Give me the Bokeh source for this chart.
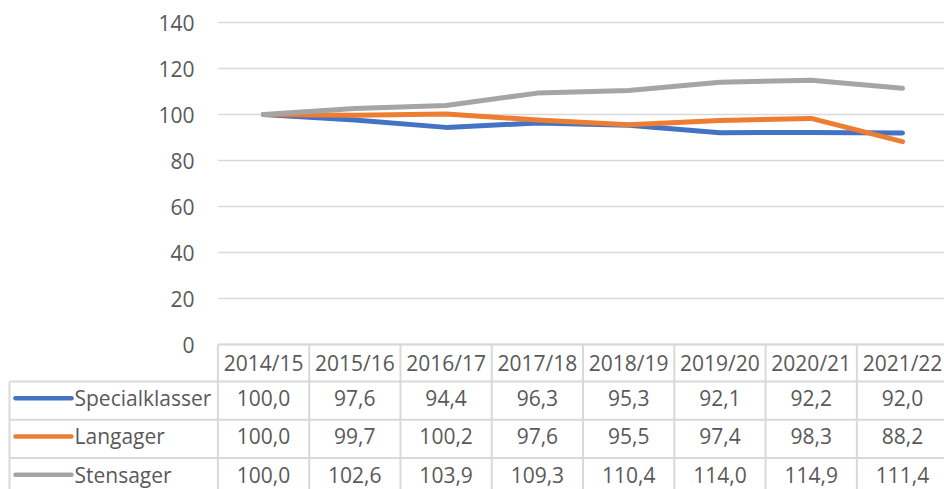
from bokeh.plotting import figure
from bokeh.models import Range1d, ColumnDataSource
from bokeh.core.properties import value
from bokeh.embed import file_html
from bokeh.resources import INLINE

# ---- data ----
categories = ["2014/15", "2015/16", "2016/17", "2017/18", "2018/19", "2019/20", "2020/21", "2021/22"]
series_names = ["Specialklasser", "Langager", "Stensager"]
specialklasser = [100.0, 97.6, 94.4, 96.3, 95.3, 92.1, 92.2, 92.0]
langager = [100.0, 99.7, 100.2, 97.6, 95.5, 97.4, 98.3, 88.2]
stensager = [100.0, 102.6, 103.9, 109.3, 110.4, 114.0, 114.9, 111.4]
y_ticks = [0, 20, 40, 60, 80, 100, 120, 140]

series_values = [specialklasser, langager, stensager]
colors = ["#4472C4", "#ED7D31", "#A5A5A5"]

FONT = "Open Sans"
TXT = "#595959"
GRID = "#D9D9D9"
FS = "21px"

n = len(categories)
xs = list(range(n))
nrows = len(series_names)
rows = list(range(nrows))

# ---- layout constants (pixels) ----
W, H = 944, 489
COL_PX = 91.28          # width of one category column
FRAME_LEFT = 217.4      # left edge of the chart area
CHART_TOP, CHART_BOT = 22.0, 344.0
HEADER_H = 37.0
ROW_PX = 38.3
TEXT_DY = 2.5           # table texts sit slightly above the row middle

x_left = -0.5 - FRAME_LEFT / COL_PX
x_right = x_left + W / COL_PX
def px_x(px):
    return x_left + px / COL_PX

# chart value range
ppu = (CHART_BOT - CHART_TOP) / (max(y_ticks) - min(y_ticks))
y_top = max(y_ticks) + CHART_TOP / ppu
y_bot = min(y_ticks) - (H - CHART_BOT) / ppu

# table row range (row r spans r-0.5 .. r+0.5, row 0 top at CHART_BOT + HEADER_H)
row0_top = CHART_BOT + HEADER_H
t_top = -0.5 - row0_top / ROW_PX
t_bot = -0.5 + (H - row0_top) / ROW_PX
header_top = -0.5 - HEADER_H / ROW_PX
header_mid = -0.5 - HEADER_H / 2 / ROW_PX
text_rows = [r - TEXT_DY / ROW_PX for r in rows]

p = figure(width=W, height=H, x_range=Range1d(x_left, x_right), y_range=Range1d(y_bot, y_top),
           output_backend="svg", toolbar_location=None,
           x_axis_location=None, y_axis_location=None,
           min_border_left=0, min_border_right=0, min_border_top=0, min_border_bottom=0)
p.extra_y_ranges = {"tbl": Range1d(t_bot, t_top)}
p.outline_line_color = None
p.grid.visible = False

# ---- chart: gridlines + y tick labels ----
p.segment(x0=[-0.5] * len(y_ticks), y0=y_ticks, x1=[x_right] * len(y_ticks), y1=y_ticks,
          line_color=GRID, line_width=1.5)
p.text(x=[px_x(194)] * len(y_ticks), y=y_ticks, text=[str(t) for t in y_ticks],
       text_font=value(FONT), text_font_size=FS, text_color=TXT,
       text_align="right", text_baseline="middle")

# ---- chart: series lines ----
for vals, col in zip(series_values, colors):
    p.line(xs, vals, line_color=col, line_width=5, line_cap="round", line_join="round")

# ---- data table ----
x_border = px_x(9)
# header top border
p.segment(x0=[-0.5], y0=[header_top], x1=[x_right], y1=[header_top],
          line_color=GRID, line_width=2, y_range_name="tbl")
# row borders
hy = [r - 0.5 for r in range(nrows)]
p.segment(x0=[x_border] * len(hy), y0=hy, x1=[x_right] * len(hy), y1=hy,
          line_color=GRID, line_width=2, y_range_name="tbl")
# vertical borders
vx = [i - 0.5 for i in range(n)]
p.segment(x0=vx, y0=[header_top] * len(vx), x1=vx, y1=[nrows - 0.5] * len(vx),
          line_color=GRID, line_width=2, y_range_name="tbl")
p.segment(x0=[x_border], y0=[-0.5], x1=[x_border], y1=[nrows - 0.5],
          line_color=GRID, line_width=2, y_range_name="tbl")

# header labels
p.text(x=xs, y=[header_mid] * n, text=categories, text_font=value(FONT), text_font_size=FS,
       text_color=TXT, text_align="center", text_baseline="middle", y_range_name="tbl")

# legend keys and names
p.segment(x0=[px_x(15)] * nrows, y0=text_rows, x1=[px_x(71)] * nrows, y1=text_rows,
          line_color=colors, line_width=4.5, line_cap="round", y_range_name="tbl")
p.text(x=[px_x(74)] * nrows, y=text_rows, text=series_names, text_font=value(FONT), text_font_size=FS,
       text_color=TXT, text_align="left", text_baseline="middle", y_range_name="tbl")

# values
cx, cy, ct = [], [], []
for r, vals in enumerate(series_values):
    for i, v in enumerate(vals):
        cx.append(i)
        cy.append(text_rows[r])
        ct.append(f"{v:.1f}".replace(".", ","))
src = ColumnDataSource(dict(x=cx, y=cy, t=ct))
p.text(x="x", y="y", text="t", source=src, text_font=value(FONT), text_font_size=FS,
       text_color=TXT, text_align="center", text_baseline="middle", y_range_name="tbl")

open("out.html", "w").write(file_html(p, INLINE))
